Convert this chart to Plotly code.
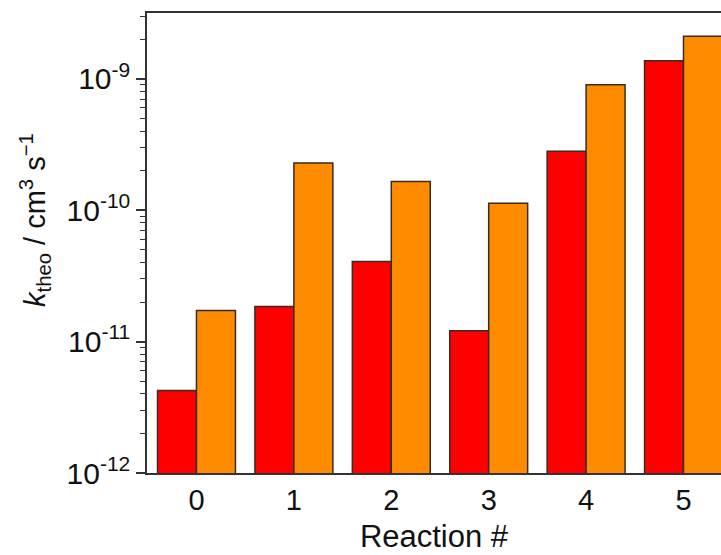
import plotly.graph_objects as go

# Reaction index on the category axis
reactions = [0, 1, 2, 3, 4, 5]

# Theoretical rate coefficients (cm^3 s^-1) for the two series
k_red = [4.24e-12, 1.85e-11, 4.07e-11, 1.21e-11, 2.80e-10, 1.37e-9]
k_orange = [1.72e-11, 2.28e-10, 1.65e-10, 1.13e-10, 9.0e-10, 2.10e-9]

# Decade tick labels on the log axis
decades = [-12, -11, -10, -9]
tick_text = [f"10<sup>{d}</sup>" for d in decades]

minor_vals = [m * 10.0 ** d for d in decades for m in range(2, 10) if m * 10.0 ** d <= 3.2e-9]

outline = dict(color="#3a2a20", width=1.5)
axis_color = "#333333"
font_family = "Liberation Sans, Arial, sans-serif"

fig = go.Figure()
fig.add_trace(go.Bar(x=reactions, y=k_red, marker=dict(color="#ff0000", line=outline)))
fig.add_trace(go.Bar(x=reactions, y=k_orange, marker=dict(color="#ff8c00", line=outline)))

fig.update_layout(
    width=721,
    height=555,
    barmode="group",
    bargap=0.2,
    bargroupgap=0,
    showlegend=False,
    plot_bgcolor="white",
    paper_bgcolor="white",
    margin=dict(l=147, r=0, t=13, b=82),
    font=dict(family=font_family, size=28, color="#111111"),
)

fig.update_xaxes(
    range=[-0.508, 5.385],
    tickmode="array",
    tickvals=reactions,
    ticktext=[str(r) for r in reactions],
    ticks="",
    showline=True,
    linecolor=axis_color,
    linewidth=1.5,
    mirror=True,
    showgrid=False,
    zeroline=False,
    tickfont=dict(size=29),
    title=dict(text="Reaction #", font=dict(size=31), standoff=11),
)

fig.update_yaxes(
    type="log",
    range=[-12, -8.5],
    tickmode="array",
    tickvals=[10.0 ** d for d in decades],
    ticktext=tick_text,
    ticks="outside",
    ticklen=9,
    tickwidth=1.5,
    tickcolor=axis_color,
    showline=True,
    linecolor=axis_color,
    linewidth=1.5,
    mirror=False,
    showgrid=False,
    zeroline=False,
    tickfont=dict(size=30),
    minor=dict(
        tickmode="array",
        tickvals=minor_vals,
        ticks="outside",
        ticklen=5,
        tickwidth=1.2,
        tickcolor=axis_color,
        showgrid=False,
    ),
)

# Rotated y-axis title placed as an annotation
fig.add_annotation(
    text="<i>k</i><sub>theo</sub> / cm<sup>3</sup> s<sup>\u22121</sup>",
    xref="paper",
    yref="paper",
    x=(35 - 147) / 574,
    y=(473 - 220) / 460,
    xanchor="center",
    yanchor="middle",
    textangle=-90,
    showarrow=False,
    font=dict(size=29),
)

fig.write_html("out.html")
